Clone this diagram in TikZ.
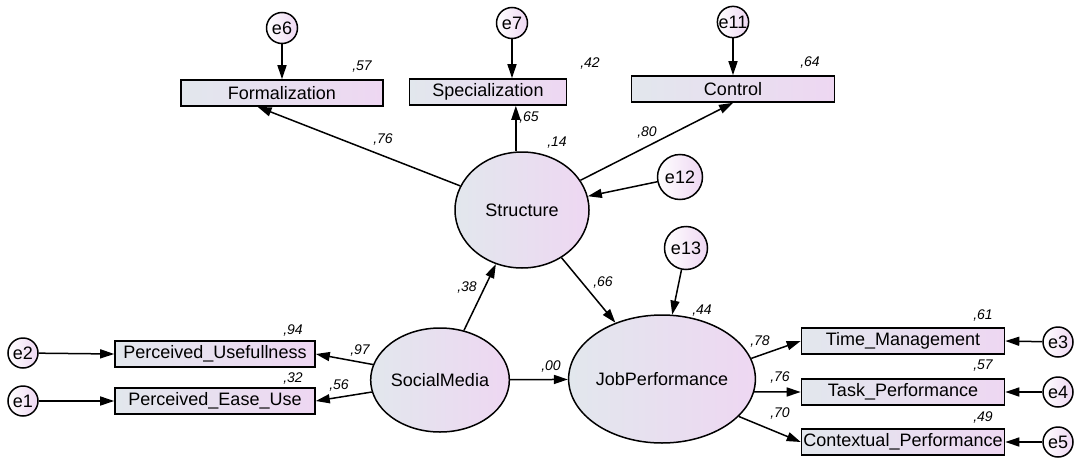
\documentclass[tikz,border=0pt]{standalone}
\usepackage{fontspec}
\setmainfont{Liberation Sans}
\usetikzlibrary{arrows.meta,shapes.geometric,calc}
\definecolor{shadeleft}{RGB}{226,231,237}
\definecolor{shaderight}{RGB}{238,215,242}
\tikzset{
  obsbox/.style={draw, line width=1.6pt, rectangle, inner sep=0pt, minimum height=26pt,
    left color=shadeleft, right color=shaderight, font=\fontsize{18}{21}\selectfont},
  latent/.style={draw, line width=1.5pt, ellipse, inner sep=0pt,
    left color=shadeleft, right color=shaderight, font=\fontsize{18}{21}\selectfont},
  errnode/.style={draw, line width=1.5pt, circle, inner sep=0pt,
    left color=white, right color=shaderight, font=\fontsize{18}{21}\selectfont},
  val/.style={font=\fontsize{14}{16}\selectfont\itshape, inner sep=0pt},
  path/.style={line width=1.5pt, -{Triangle[length=14pt,width=9pt]}}
}
\begin{document}
\begin{tikzpicture}[x=1pt, y=-1pt]
  \useasboundingbox (0,0) rectangle (1075,460);

  \node[obsbox, minimum width=202pt] (Formalization) at (282,93) {Formalization};
  \node[obsbox, minimum width=157pt] (Specialization) at (488,92) {Specialization};
  \node[obsbox, minimum width=203pt] (Control) at (733,89) {Control};
  \node[obsbox, minimum width=200pt] (PU) at (215,354) {Perceived\_Usefullness};
  \node[obsbox, minimum width=200pt] (PEU) at (215,401) {Perceived\_Ease\_Use};
  \node[obsbox, minimum width=203pt] (TM) at (903,341) {Time\_Management};
  \node[obsbox, minimum width=203pt] (TP) at (903,392) {Task\_Performance};
  \node[obsbox, minimum width=203pt] (CP) at (903,442) {Contextual\_Performance};

  \node[latent, minimum width=134pt, minimum height=116pt] (Structure) at (522,210) {Structure};
  \node[latent, minimum width=116pt, minimum height=104pt] (SocialMedia) at (440,380) {SocialMedia};
  \node[latent, minimum width=160pt, minimum height=128pt] (JobPerformance) at (662,379) {JobPerformance};

  \node[errnode, minimum size=31pt] (e6) at (282,28) {e6};
  \node[errnode, minimum size=31pt] (e7) at (512,23) {e7};
  \node[errnode, minimum size=31pt] (e11) at (733,22) {e11};
  \node[errnode, minimum size=45pt] (e12) at (680,177) {e12};
  \node[errnode, minimum size=43pt] (e13) at (686,248) {e13};
  \node[errnode, minimum size=30pt] (e2) at (23,353) {e2};
  \node[errnode, minimum size=30pt] (e1) at (23,401) {e1};
  \node[errnode, minimum size=30pt] (e3) at (1058,342) {e3};
  \node[errnode, minimum size=30pt] (e4) at (1058,392) {e4};
  \node[errnode, minimum size=30pt] (e5) at (1058,442) {e5};

  \draw[path] (e6) -- (Formalization.north);
  \draw[path] (e7) -- (e7 |- Specialization.north);
  \draw[path] (e11) -- (Control.north);
  \draw[path] (Structure) -- ($(Formalization.south west)!.38!(Formalization.south east)$);
  \draw[path] (Structure.96) -- (Structure.96 |- Specialization.south);
  \draw[path] (Structure) -- (Control.south);
  \draw[path] (e12) -- (Structure);
  \draw[path] (SocialMedia) -- (Structure);
  \draw[path] (Structure) -- (JobPerformance);
  \draw[path] (e13) -- (JobPerformance.81);
  \draw[path] (SocialMedia) -- (JobPerformance);
  \draw[path] (SocialMedia.167) -- (PU.east);
  \draw[path] (SocialMedia.190) -- (PEU.east);
  \draw[path] (e2) -- (PU.west);
  \draw[path] (e1) -- (PEU.west);
  \draw[path] (JobPerformance.13) -- (TM.west);
  \draw[path] (JobPerformance.-8) -- (TP.west);
  \draw[path] (JobPerformance.-26) -- (CP.west);
  \draw[path] (e3) -- (TM.east);
  \draw[path] (e4) -- (TP.east);
  \draw[path] (e5) -- (CP.east);

  \node[val] (r57a) at (362,67) {,57};
  \node[val] (r42) at (590,64) {,42};
  \node[val] (r64) at (810,63) {,64};
  \node[val] (w65) at (529,118) {,65};
  \node[val] (w76a) at (383,140) {,76};
  \node[val] (r14) at (557,143) {,14};
  \node[val] (w80) at (647,133) {,80};
  \node[val] (w38) at (467,288) {,38};
  \node[val] (w66) at (603,283) {,66};
  \node[val] (r44) at (702,311) {,44};
  \node[val] (r94) at (293,331) {,94};
  \node[val] (w97) at (360,351) {,97};
  \node[val] (r32) at (293,379) {,32};
  \node[val] (w56) at (339,386) {,56};
  \node[val] (w00) at (551,367) {,00};
  \node[val] (w78) at (760,342) {,78};
  \node[val] (w76b) at (780,378) {,76};
  \node[val] (w70) at (780,414) {,70};
  \node[val] (r61) at (983,316) {,61};
  \node[val] (r57b) at (983,366) {,57};
  \node[val] (r49) at (983,418) {,49};
\end{tikzpicture}
\end{document}
